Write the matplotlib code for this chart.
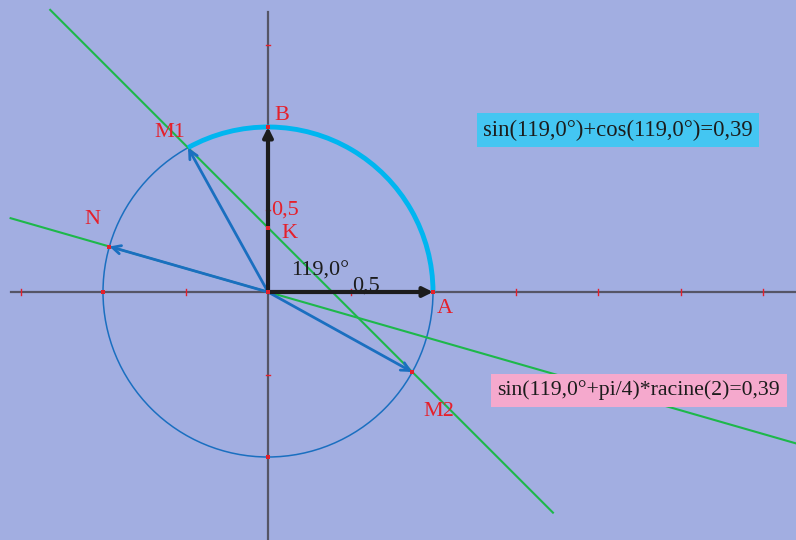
import numpy as np
import matplotlib.pyplot as plt
from matplotlib.patches import Arc, Circle

# angle shown on the figure
angle_deg = 119.0
x_ticks = [-1.5, -0.5, 0.5, 1.5, 2.0, 2.5, 3.0]
y_ticks = [1.5, 0.5, -0.5]
text_sum = "sin(119,0°)+cos(119,0°)=0,39"
text_rac = "sin(119,0°+pi/4)*racine(2)=0,39"

bg = "#a2aee1"
red = "#e5202b"
blue = "#1a6fc0"
cyan = "#00b6f0"
green = "#1db84a"
axis_col = "#555566"
serif = "Liberation Serif"

t = np.radians(angle_deg)
M1 = (np.cos(t), np.sin(t))
M2 = (np.sin(t), np.cos(t))
N = (np.cos(t + np.pi / 4), np.sin(t + np.pi / 4))
k = np.sin(t) + np.cos(t)

fig = plt.figure(figsize=(7.96, 5.40), dpi=100)
fig.patch.set_facecolor(bg)
ax = fig.add_axes([0, 0, 1, 1])
ax.set_facecolor(bg)
ax.set_xlim(-268 / 165, 528 / 165)
ax.set_ylim(-248 / 165, 292 / 165)
ax.set_aspect('equal')
ax.axis('off')

# axes
ax.plot([-1.56, 3.3], [0, 0], color=axis_col, lw=1.6, zorder=1)
ax.plot([0, 0], [1.70, -1.6], color=axis_col, lw=1.6, zorder=1)
for xt in x_ticks:
    ax.plot([xt, xt], [-0.02, 0.02], color=red, lw=1, zorder=2)
for yt in y_ticks:
    ax.plot([-0.01, 0.01], [yt, yt], color=red, lw=1, zorder=2)

# unit circle and arc
ax.add_patch(Circle((0, 0), 1, fill=False, color=blue, lw=1.1, zorder=3))
ax.add_patch(Arc((0, 0), 2, 2, theta1=0, theta2=angle_deg, color=cyan, lw=3.5, zorder=4))

# green lines
xs = np.array([-1.32, 1.727])
ax.plot(xs, -xs + k, color=green, lw=1.5, zorder=3)
xs2 = np.array([-1.56, 3.3])
ax.plot(xs2, xs2 * np.tan(t + np.pi / 4), color=green, lw=1.5, zorder=3)

# blue vectors
for P in (M1, N, M2):
    ax.annotate('', xy=P, xytext=(0, 0),
                arrowprops=dict(arrowstyle='->', color=blue, lw=2,
                                shrinkA=0, shrinkB=0, mutation_scale=15), zorder=5)

# black vectors
for P in ((1, 0), (0, 1)):
    ax.annotate('', xy=P, xytext=(0, 0),
                arrowprops=dict(arrowstyle='-|>', color='#1c1c1c', lw=3,
                                shrinkA=0, shrinkB=0, mutation_scale=14), zorder=6)

# red points
pts = [(0, 0), (1, 0), (0, 1), (0, k), (-1, 0), (0, -1), N, M2]
ax.scatter([p[0] for p in pts], [p[1] for p in pts], marker='s', s=10,
           color=red, zorder=7, linewidths=0)

# labels
lab = dict(color=red, fontsize=16, family=serif, zorder=8)
ax.text(0.04, 1.04, "B", **lab)
ax.text(-0.69, 0.94, "M1", **lab)
ax.text(0.02, 0.47, "0,5", **lab)
ax.text(0.08, 0.33, "K", **lab)
ax.text(-1.11, 0.41, "N", **lab)
ax.text(1.02, -0.13, "A", **lab)
ax.text(0.94, -0.75, "M2", **lab)
ax.text(0.14, 0.10, "119,0°", color='#1c1c1c', fontsize=16, family=serif, zorder=8)
ax.text(0.51, 0.01, "0,5", color='#1c1c1c', fontsize=16, family=serif, zorder=8)

# result boxes
ax.text(1.305, 0.98, text_sum, fontsize=16.3, family=serif, color='#1c1c1c',
        va='center', zorder=9,
        bbox=dict(boxstyle='square,pad=0.28', fc='#44c6f2', ec='none'))
ax.text(1.39, -0.594, text_rac, fontsize=15.7, family=serif, color='#1c1c1c',
        va='center', zorder=9,
        bbox=dict(boxstyle='square,pad=0.3', fc='#f5a9cd', ec='none'))

fig.savefig('out.png', dpi=100, facecolor=bg)
